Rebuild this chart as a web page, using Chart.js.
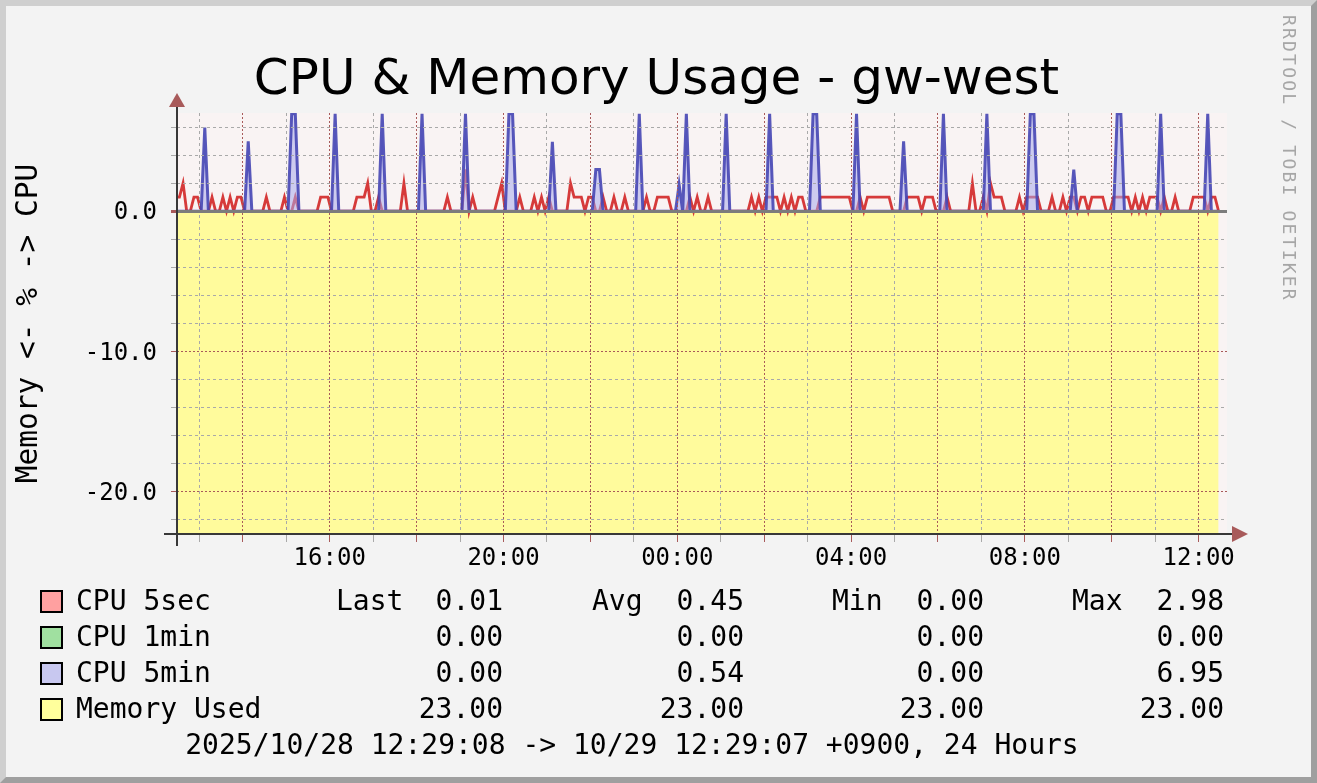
<!DOCTYPE html>
<html>
<head>
<meta charset="utf-8">
<title>CPU &amp; Memory Usage - gw-west</title>
<script src="https://cdn.jsdelivr.net/npm/chart.js@4.4.1/dist/chart.umd.min.js"></script>
<style>
  html, body { margin: 0; padding: 0; background: #f3f3f3; }
  #frame {
    position: absolute; left: 0; top: 0; width: 1317px; height: 783px;
    box-sizing: border-box; border-style: solid; border-width: 6px;
    border-color: #cfcfcf #9f9f9f #9f9f9f #cfcfcf; background: #f3f3f3;
  }
  #chart { position: absolute; left: 0; top: 0; }
  .txt {
    position: absolute; font-family: 'DejaVu Sans Mono', monospace; font-size: 28px;
    line-height: 28px; white-space: pre; color: #000;
  }
  #title {
    position: absolute; left: 0; width: 1313px; top: 52px; text-align: center;
    font-family: 'DejaVu Sans', sans-serif; font-size: 50px; line-height: 50px; color: #000;
  }
  #watermark {
    position: absolute; left: 1298px; top: 15px; transform-origin: 0 0; transform: rotate(90deg);
    font-family: 'DejaVu Sans Mono', monospace; font-size: 18px; line-height: 18px;
    letter-spacing: 2.2px; color: #a6a6a6; white-space: pre;
  }
  .swatch { position: absolute; width: 23px; height: 23px; box-sizing: border-box; border: 2px solid #000; }
</style>
</head>
<body>
<div id="frame"></div>
<canvas id="chart" width="1317" height="783"></canvas>
<div id="title">CPU &amp; Memory Usage - gw-west</div>
<div id="watermark">RRDTOOL / TOBI OETIKER</div>
<div id="legend"></div>
<script>
// time axis: minutes relative to 10/29 00:00 (negative = 10/28)
const rangeStart = -690.87;   // 10/28 12:29:08
const rangeEnd = 759.1;       // right edge of the plot
const sampleStart = -692.5;   // first 5 min sample
const sampleStep = 5;

// hourly grid lines (13:00 .. 12:00) and y grid every 2 %
const hourTicks = [-660, -600, -540, -480, -420, -360, -300, -240, -180, -120, -60, 0,
  60, 120, 180, 240, 300, 360, 420, 480, 540, 600, 660, 720];
const yTicks = [-22, -20, -18, -16, -14, -12, -10, -8, -6, -4, -2, 0, 2, 4, 6];

// CPU 5sec (%), one value per 5 min, rows of one hour
const cpu5sec = [
  1,1,2,0,0,1,1,0,0,0,1,0,
  0,1,0,1,0,1,1,0,0,0,0,0,
  0,1,0,0,0,0,1,0,0,1,0,0,
  0,0,0,0,1,1,1,0,0,0,0,0,
  0,0,1,1,1,2,0,0,1,0,0,0,
  0,0,0,2,0,0,0,0,0,0,0,0,
  0,0,0,1,0,0,0,0,2.98,0,1,0,
  0,0,0,0,0,1,2,0,0,0,0,1,
  0,0,0,1,0,1,0,1,0,0,0,0,
  0,2,1,1,1,0,1,1,0,0,1,0,
  0,1,0,0,1,0,0,0,0,0,1,0,
  0,1,1,1,1,0,0,0,0,0,1,0,
  1,0,0,1,0,0,0,0,0,0,0,0,
  0,0,0,1,0,1,0,1,1,1,1,0,
  1,0,1,0,1,1,0,0,0,0,1,1,
  1,1,1,1,1,1,1,0,0,1,0,1,
  1,1,1,1,1,1,0,0,0,0,1,1,
  1,1,0,1,1,1,0,0,0,1,0,0,
  0,0,0,0,2,0,0,1,0,2,1,1,
  1,0,0,0,0,1,0,1,1,1,1,0,
  0,0,1,0,0,1,0,1,1,0,1,1,
  0,1,1,1,1,0,0,1,1,1,1,1,
  0,1,0,1,0,1,1,1,0,1,0,0,
  1,0,0,0,0,1,1,1,1,0,1,1,
  0
];

// CPU 1min (%)
const cpu1min = [
  0,0,0,0,0,0,0,0,0,0,0,0, 0,0,0,0,0,0,0,0,0,0,0,0,
  0,0,0,0,0,0,0,0,0,0,0,0, 0,0,0,0,0,0,0,0,0,0,0,0,
  0,0,0,0,0,0,0,0,0,0,0,0, 0,0,0,0,0,0,0,0,0,0,0,0,
  0,0,0,0,0,0,0,0,0,0,0,0, 0,0,0,0,0,0,0,0,0,0,0,0,
  0,0,0,0,0,0,0,0,0,0,0,0, 0,0,0,0,0,0,0,0,0,0,0,0,
  0,0,0,0,0,0,0,0,0,0,0,0, 0,0,0,0,0,0,0,0,0,0,0,0,
  0,0,0,0,0,0,0,0,0,0,0,0, 0,0,0,0,0,0,0,0,0,0,0,0,
  0,0,0,0,0,0,0,0,0,0,0,0, 0,0,0,0,0,0,0,0,0,0,0,0,
  0,0,0,0,0,0,0,0,0,0,0,0, 0,0,0,0,0,0,0,0,0,0,0,0,
  0,0,0,0,0,0,0,0,0,0,0,0, 0,0,0,0,0,0,0,0,0,0,0,0,
  0,0,0,0,0,0,0,0,0,0,0,0, 0,0,0,0,0,0,0,0,0,0,0,0,
  0,0,0,0,0,0,0,0,0,0,0,0, 0,0,0,0,0,0,0,0,0,0,0,0,
  0
];

// CPU 5min (%)
const cpu5min = [
  0,0,0,0,0,0,0,0,5.96,0,0,0,
  0,0,0,0,0,0,0,0,4.98,0,0,0,
  0,0,0,0,0,0,0,0,6.95,6.95,0,0,
  0,0,0,0,0,0,0,0,6.95,0,0,0,
  0,0,0,0,0,0,0,0,0,6.95,0,0,
  0,0,0,0,0,0,0,0,6.95,0,0,0,
  0,0,0,0,0,0,0,0,6.95,0,0,0,
  0,0,0,0,0,0,0,0,6.95,6.95,0,0,
  0,0,0,0,0,0,0,0,4.95,0,0,0,
  0,0,0,0,0,0,0,0,2.97,2.97,0,0,
  0,0,0,0,0,0,0,0,6.95,0,0,0,
  0,0,0,0,0,0,0,1.9,0,6.95,0,0,
  0,0,0,0,0,0,0,0,6.95,0,0,0,
  0,0,0,0,0,0,0,0,6.95,0,0,0,
  0,0,0,0,0,0,0,0,6.95,6.95,0,0,
  0,0,0,0,0,0,0,0,6.95,0,0,0,
  0,0,0,0,0,0,0,0,0,4.98,0,0,
  0,0,0,0,0,0,0,0,6.95,0,0,0,
  0,0,0,0,0,0,0,0,6.95,0,0,0,
  0,0,0,0,0,0,0,0,6.95,6.95,0,0,
  0,0,0,0,0,0,0,0,2.97,0,0,0,
  0,0,0,0,0,0,0,0,6.95,6.95,0,0,
  0,0,0,0,0,0,0,0,6.95,0,0,0,
  0,0,0,0,0,0,0,0,0,6.95,0,0,
  0
];

// Memory used (%), drawn below the axis
const memoryUsed = [
  23,23,23,23,23,23,23,23,23,23,23,23, 23,23,23,23,23,23,23,23,23,23,23,23,
  23,23,23,23,23,23,23,23,23,23,23,23, 23,23,23,23,23,23,23,23,23,23,23,23,
  23,23,23,23,23,23,23,23,23,23,23,23, 23,23,23,23,23,23,23,23,23,23,23,23,
  23,23,23,23,23,23,23,23,23,23,23,23, 23,23,23,23,23,23,23,23,23,23,23,23,
  23,23,23,23,23,23,23,23,23,23,23,23, 23,23,23,23,23,23,23,23,23,23,23,23,
  23,23,23,23,23,23,23,23,23,23,23,23, 23,23,23,23,23,23,23,23,23,23,23,23,
  23,23,23,23,23,23,23,23,23,23,23,23, 23,23,23,23,23,23,23,23,23,23,23,23,
  23,23,23,23,23,23,23,23,23,23,23,23, 23,23,23,23,23,23,23,23,23,23,23,23,
  23,23,23,23,23,23,23,23,23,23,23,23, 23,23,23,23,23,23,23,23,23,23,23,23,
  23,23,23,23,23,23,23,23,23,23,23,23, 23,23,23,23,23,23,23,23,23,23,23,23,
  23,23,23,23,23,23,23,23,23,23,23,23, 23,23,23,23,23,23,23,23,23,23,23,23,
  23,23,23,23,23,23,23,23,23,23,23,23, 23,23,23,23,23,23,23,23,23,23,23,23,
  23
];

// legend table
const legendNames = ['CPU 5sec', 'CPU 1min', 'CPU 5min', 'Memory Used'];
const legendColors = ['#ffa0a0', '#a0e0a0', '#c8c8f0', '#ffff9c'];
const statLabels = ['Last', 'Avg', 'Min', 'Max'];
const lastVals = ['0.01', '0.00', '0.00', '23.00'];
const avgVals = ['0.45', '0.00', '0.54', '23.00'];
const minVals = ['0.00', '0.00', '0.00', '23.00'];
const maxVals = ['2.98', '0.00', '6.95', '23.00'];
const footerText = '2025/10/28 12:29:08 -> 10/29 12:29:07 +0900, 24 Hours';

const toPoints = (vals, sign) => vals.map((v, i) => ({ x: sampleStart + i * sampleStep, y: sign * v }));

const isEvenHour = v => (((Math.round(v / 60) % 24) + 24) % 24) % 2 === 0;
const hhmm = v => {
  const h = (((Math.round(v / 60)) % 24) + 24) % 24;
  return String(h).padStart(2, '0') + ':00';
};

const gridRed = '#a85a5a';
const gridGray = '#a9a9a9';

// plot background, axis lines and arrows
const rrdFrame = {
  id: 'rrdFrame',
  beforeDraw(chart) {
    const { ctx, chartArea: a } = chart;
    ctx.save();
    ctx.fillStyle = '#f9f3f3';
    ctx.fillRect(a.left, a.top, a.right - a.left, a.bottom - a.top);
    ctx.restore();
  },
  afterDraw(chart) {
    const { ctx, chartArea: a } = chart;
    ctx.save();
    ctx.strokeStyle = '#383838';
    ctx.lineWidth = 2;
    ctx.beginPath();
    ctx.moveTo(a.left, a.bottom + 12);
    ctx.lineTo(a.left, a.top - 7);
    ctx.moveTo(a.left - 13, a.bottom);
    ctx.lineTo(a.right + 6, a.bottom);
    ctx.stroke();
    ctx.fillStyle = '#a85a5a';
    ctx.beginPath();
    ctx.moveTo(a.left - 8, a.top - 6);
    ctx.lineTo(a.left + 8, a.top - 6);
    ctx.lineTo(a.left, a.top - 20);
    ctx.closePath();
    ctx.fill();
    ctx.beginPath();
    ctx.moveTo(a.right + 5, a.bottom - 8);
    ctx.lineTo(a.right + 5, a.bottom + 8);
    ctx.lineTo(a.right + 21, a.bottom);
    ctx.closePath();
    ctx.fill();
    ctx.restore();
  }
};

Chart.defaults.font.family = "'DejaVu Sans Mono', monospace";
Chart.defaults.color = '#000';

const chart = new Chart(document.getElementById('chart'), {
  type: 'line',
  data: {
    datasets: [
      {
        label: 'CPU 5min',
        data: toPoints(cpu5min, 1),
        borderColor: 'rgba(70,70,180,0.9)',
        backgroundColor: 'rgba(170,170,235,0.55)',
        borderWidth: 3,
        fill: 'origin',
        order: 1
      },
      {
        label: 'CPU 5sec',
        data: toPoints(cpu5sec, 1),
        borderColor: '#d63a3a',
        borderWidth: 2.8,
        fill: false,
        order: 2
      },
      {
        label: 'CPU 1min',
        data: toPoints(cpu1min, 1),
        borderColor: '#7fcf7f',
        borderWidth: 2,
        fill: false,
        order: 3
      },
      {
        label: 'Memory Used',
        data: toPoints(memoryUsed, -1),
        borderWidth: 0,
        borderColor: 'rgba(0,0,0,0)',
        backgroundColor: '#fffb9c',
        fill: 'origin',
        order: 4
      }
    ]
  },
  options: {
    responsive: false,
    animation: false,
    devicePixelRatio: 1,
    elements: { point: { radius: 0 }, line: { tension: 0 } },
    layout: { padding: { left: 0, top: 113, right: 90, bottom: 0 } },
    plugins: { legend: { display: false }, tooltip: { enabled: false }, title: { display: false } },
    scales: {
      x: {
        type: 'linear',
        min: rangeStart,
        max: rangeEnd,
        afterFit: s => { s.height = 249; },
        afterBuildTicks: s => { s.ticks = hourTicks.map(v => ({ value: v })); },
        ticks: {
          autoSkip: false,
          maxRotation: 0,
          padding: 2,
          font: { size: 24 },
          callback: v => (v % 240 === 0 ? hhmm(v) : '')
        },
        grid: {
          z: 1,
          lineWidth: 1,
          tickLength: 8,
          color: c => (isEvenHour(c.tick.value) ? gridRed : gridGray),
          tickColor: c => (isEvenHour(c.tick.value) ? gridRed : gridGray)
        },
        border: {
          display: false,
          dash: c => (isEvenHour(c.tick.value) ? [2, 2] : [3, 3])
        }
      },
      y: {
        min: -23,
        max: 7,
        afterFit: s => { s.width = 177; },
        afterBuildTicks: s => { s.ticks = yTicks.map(v => ({ value: v })); },
        ticks: {
          autoSkip: false,
          padding: 14,
          labelOffset: 2,
          font: { size: 24 },
          callback: v => (v % 10 === 0 ? v.toFixed(1) : '')
        },
        title: {
          display: true,
          text: 'Memory <- % -> CPU',
          font: { size: 29.5 },
          padding: { top: 12, bottom: 0 }
        },
        grid: {
          z: 1,
          tickLength: 6,
          lineWidth: c => (c.tick.value === 0 ? 3 : 1),
          color: c => (c.tick.value === 0 ? '#7c7c7c' : (c.tick.value % 10 === 0 ? gridRed : gridGray)),
          tickColor: c => (c.tick.value % 10 === 0 ? gridRed : gridGray)
        },
        border: {
          display: false,
          dash: c => (c.tick.value === 0 ? [] : (c.tick.value % 10 === 0 ? [2, 2] : [3, 3]))
        }
      }
    }
  },
  plugins: [rrdFrame]
});

// legend below the plot
const legend = document.getElementById('legend');
const rowCenters = [601, 637, 673, 709];
const statLeft = [336, 592, 832, 1072];
const valueRight = [503, 744, 984, 1224];
const statCols = [lastVals, avgVals, minVals, maxVals];

function addText(text, css) {
  const d = document.createElement('div');
  d.className = 'txt';
  d.textContent = text;
  Object.assign(d.style, css);
  legend.appendChild(d);
  return d;
}

legendNames.forEach((name, r) => {
  const cy = rowCenters[r];
  const sw = document.createElement('div');
  sw.className = 'swatch';
  sw.style.left = '40px';
  sw.style.top = (cy - 11.5) + 'px';
  sw.style.background = legendColors[r];
  legend.appendChild(sw);
  addText(name, { left: '76px', top: (cy - 14) + 'px' });
  statCols.forEach((col, c) => {
    if (r === 0) addText(statLabels[c], { left: statLeft[c] + 'px', top: (cy - 14) + 'px' });
    addText(col[r], { right: (1317 - valueRight[c]) + 'px', top: (cy - 14) + 'px', textAlign: 'right' });
  });
});
addText(footerText, { left: '0px', width: '1264px', top: (745 - 14) + 'px', textAlign: 'center' });
</script>
</body>
</html>
